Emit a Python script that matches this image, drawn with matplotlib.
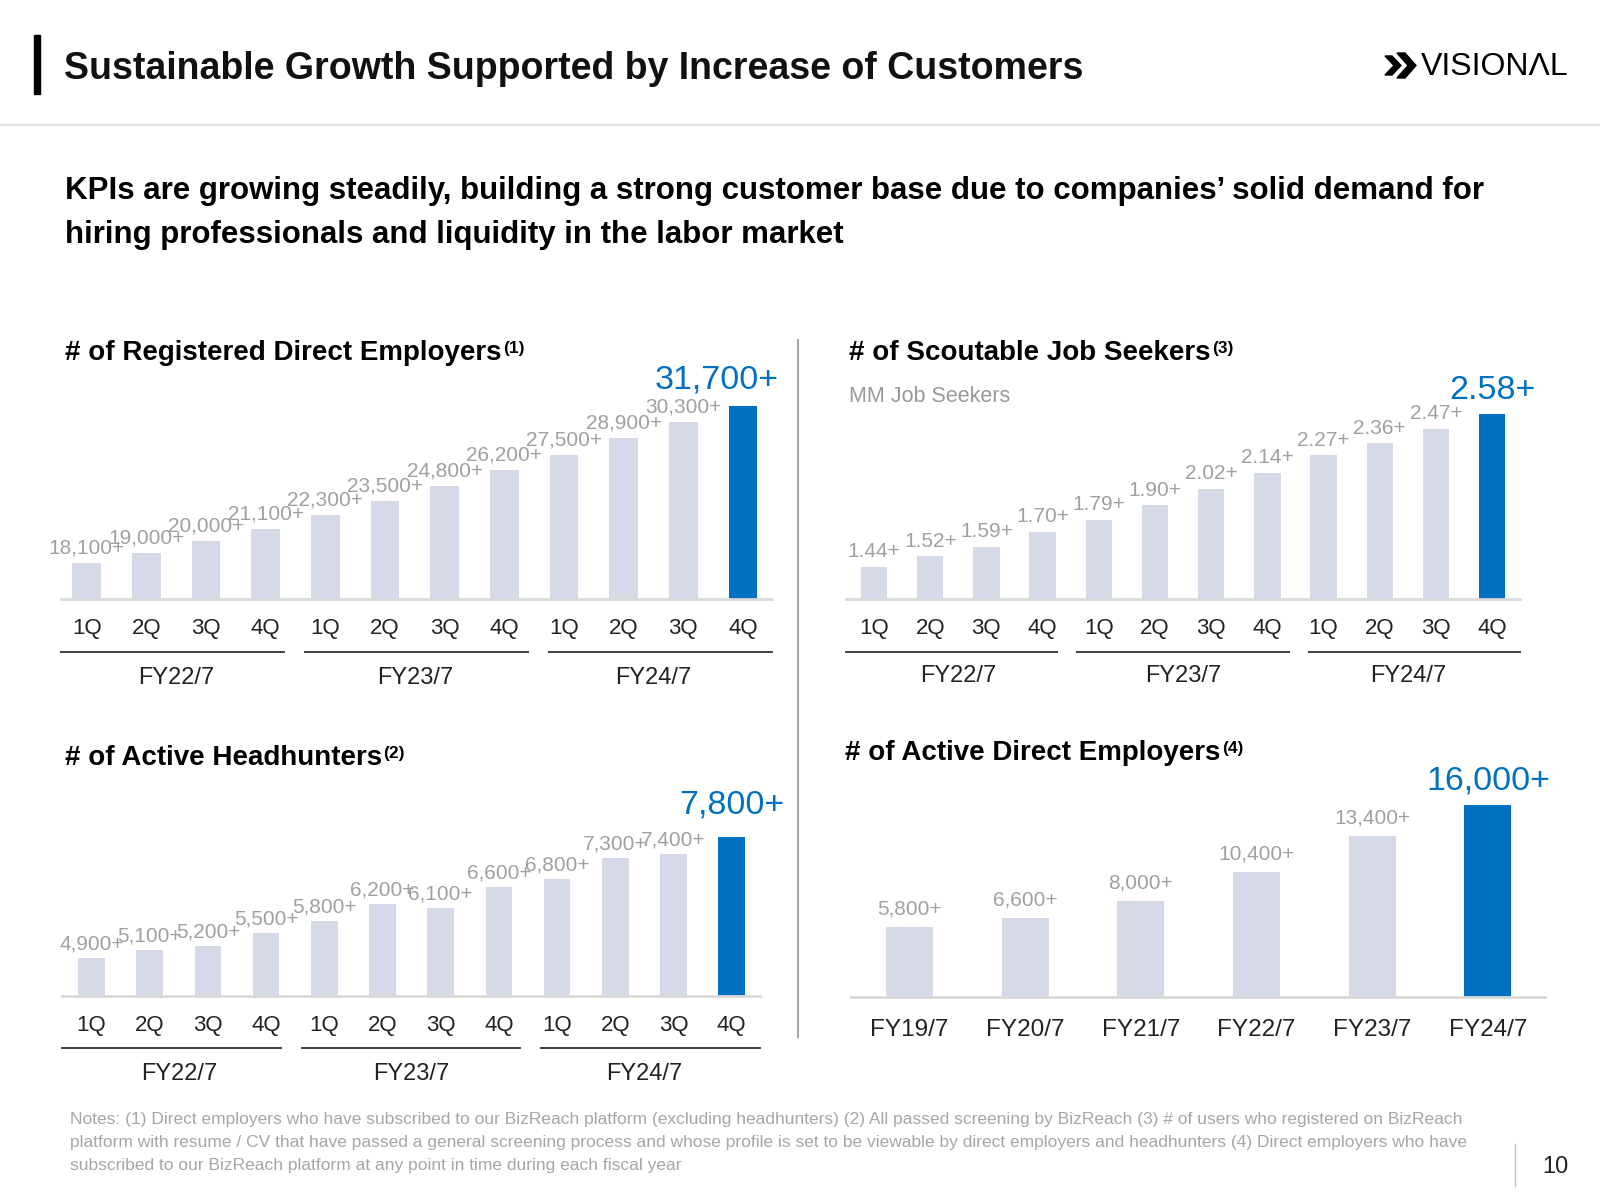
import matplotlib
matplotlib.use("Agg")
import matplotlib.pyplot as plt
from matplotlib.patches import Polygon, Rectangle
from matplotlib.transforms import blended_transform_factory

plt.rcParams['font.family'] = ['Liberation Sans', 'DejaVu Sans']

# ---- data ----
quarters = ['1Q', '2Q', '3Q', '4Q'] * 3
fy_groups = ['FY22/7', 'FY23/7', 'FY24/7']
registered_employers = [18100, 19000, 20000, 21100, 22300, 23500, 24800, 26200, 27500, 28900, 30300, 31700]
job_seekers_mm = [1.44, 1.52, 1.59, 1.70, 1.79, 1.90, 2.02, 2.14, 2.27, 2.36, 2.47, 2.58]
headhunters = [4900, 5100, 5200, 5500, 5800, 6200, 6100, 6600, 6800, 7300, 7400, 7800]
years = ['FY19/7', 'FY20/7', 'FY21/7', 'FY22/7', 'FY23/7', 'FY24/7']
active_employers = [5800, 6600, 8000, 10400, 13400, 16000]

notes = [
    "Notes: (1) Direct employers who have subscribed to our BizReach platform (excluding headhunters) (2) All passed screening by BizReach (3) # of users who registered on BizReach",
    "platform with resume / CV that have passed a general screening process and whose profile is set to be viewable by direct employers and headhunters (4) Direct employers who have",
    "subscribed to our BizReach platform at any point in time during each fiscal year",
]

GRAY_BAR = '#d6dae8'
BLUE = '#0070c0'
LABEL_GRAY = '#a0a0a0'
DARK = '#222222'

W, H = 1600, 1200
fig = plt.figure(figsize=(16, 12), dpi=100)

# page overlay in pixel coords, y pointing down
page = fig.add_axes([0, 0, 1, 1])
page.set_xlim(0, W)
page.set_ylim(H, 0)
page.axis('off')


def px_axes(left, top, right, bottom):
    ax = fig.add_axes([left / W, 1 - bottom / H, (right - left) / W, (bottom - top) / H])
    ax.patch.set_visible(False)
    return ax


def bar_panel(values, fmt, left, right, base, x0, step, width, y0, ppu,
              gap, blue_gap, xlabels, xlabel_y, groups=None, line_y=None, group_y=None,
              xlabel_size=16, blue_dx=0):
    ax = px_axes(left, base - 300, right, base)
    n = len(values)
    xs = list(range(n))
    colors = [GRAY_BAR] * (n - 1) + [BLUE]
    ax.bar(xs, values, width=width, color=colors, zorder=2)
    for i, v in enumerate(values[:-1]):
        ax.annotate(fmt(v), (i, v), xytext=(0, gap * 0.72), textcoords='offset points',
                    ha='center', va='center', fontsize=15, color=LABEL_GRAY)
    ax.annotate(fmt(values[-1]), (n - 1, values[-1]), xytext=(blue_dx * 0.72, blue_gap * 0.72),
                textcoords='offset points', ha='center', va='center',
                fontsize=24.5, color=BLUE, annotation_clip=False)
    for s in ['top', 'left', 'right']:
        ax.spines[s].set_visible(False)
    ax.spines['bottom'].set_color('#d9d9d9')
    ax.spines['bottom'].set_linewidth(2)
    ax.set_xticks([])
    ax.set_yticks([])

    tq = blended_transform_factory(ax.transData, page.transData)
    for i, lab in enumerate(xlabels):
        ax.text(i, xlabel_y, lab, transform=tq, ha='center', va='center',
                fontsize=xlabel_size, color=DARK, clip_on=False)
    if groups:
        tl = blended_transform_factory(ax.transAxes, page.transData)
        gap_f = 0.03
        seg = (1 - 2 * gap_f) / 3
        for g, name in enumerate(groups):
            a = g * (seg + gap_f)
            ax.plot([a, a + seg], [line_y, line_y], transform=tl, color='#404040',
                    lw=1.4, clip_on=False)
            ax.text(4 * g + 1.5, group_y, name, transform=tq, ha='center', va='center',
                    fontsize=17, color=DARK, clip_on=False)
    ax.set_xlim((left - x0) / step, (right - x0) / step)
    ax.set_ylim(y0, y0 + 300 / ppu)
    return ax


def panel_title(x, y, text, note):
    t = page.text(x, y, text, ha='left', va='center', fontsize=20, fontweight='bold', color='black')
    page.annotate(note, xy=(1, 1), xycoords=t, xytext=(1, -1), textcoords='offset points',
                  ha='left', va='top', fontsize=12.5, fontweight='bold', color='black')


# ---- header ----
page.add_patch(Rectangle((33.5, 34.5), 6, 59.5, color='black'))
page.text(64, 69, 'Sustainable Growth Supported by Increase of Customers', ha='left', va='center',
          fontsize=27, fontweight='bold', color='#111111')
page.add_patch(Polygon([(1385, 56), (1392, 56), (1401, 65.5), (1392, 75), (1385, 75), (1394, 65.5)],
                       closed=True, color='black'))
page.add_patch(Polygon([(1397, 53), (1405, 53), (1416, 65.5), (1405, 78), (1397, 78), (1408, 65.5)],
                       closed=True, color='black'))
page.text(1421, 67, 'VISIONΛL', ha='left', va='center', fontsize=23, color='black')
page.plot([0, W], [125, 125], color='#e0e0e0', lw=1.5)

page.text(65, 191.5, 'KPIs are growing steadily, building a strong customer base due to companies\u2019 solid demand for',
          ha='left', va='center', fontsize=22.5, fontweight='bold', color='black')
page.text(65, 235, 'hiring professionals and liquidity in the labor market',
          ha='left', va='center', fontsize=22.5, fontweight='bold', color='black')

# divider between the two columns
page.plot([798, 798], [340, 1037], color='#a6a6a6', lw=1.5)

# ---- panels ----
fmt_int = lambda v: f'{v:,}+'
fmt_mm = lambda v: f'{v:.2f}+'

panel_title(65, 353, '# of Registered Direct Employers', '(1)')
bar_panel(registered_employers, fmt_int, 61, 772, 599, 86.7, 59.65, 0.48, 15000, 0.01155,
          15, 26, quarters, 628.5, fy_groups, 652, 677.5, blue_dx=-26)

panel_title(849, 353, '# of Scoutable Job Seekers', '(3)')
page.text(849, 396, 'MM Job Seekers', ha='left', va='center', fontsize=15.5, color='#999999')
bar_panel(job_seekers_mm, fmt_mm, 846, 1520, 599, 874, 56.2, 0.47, 1.2, 134.2,
          15, 23, quarters, 628.7, fy_groups, 651.7, 676.5)

panel_title(65, 758, '# of Active Headhunters', '(2)')
bar_panel(headhunters, fmt_int, 62, 760, 996, 91.5, 58.2, 0.457, 4000, 0.0419,
          14, 32, quarters, 1025, fy_groups, 1048.3, 1073.5)

panel_title(845, 753, '# of Active Direct Employers', '(4)')
bar_panel(active_employers, fmt_int, 851, 1545, 996.7, 909.4, 115.7, 0.406, 0, 0.01198,
          18, 24, years, 1030, xlabel_size=17.5)

# ---- footer ----
for k, line in enumerate(notes):
    page.text(69.5, 1119.5 + k * 23.2, line, ha='left', va='center', fontsize=12.5, color='#a6a6a6')
page.plot([1515, 1515], [1144, 1186], color='#bfbfbf', lw=1)
page.text(1555, 1167, '10', ha='center', va='center', fontsize=17, color=DARK)

fig.savefig('out.png', dpi=100)
